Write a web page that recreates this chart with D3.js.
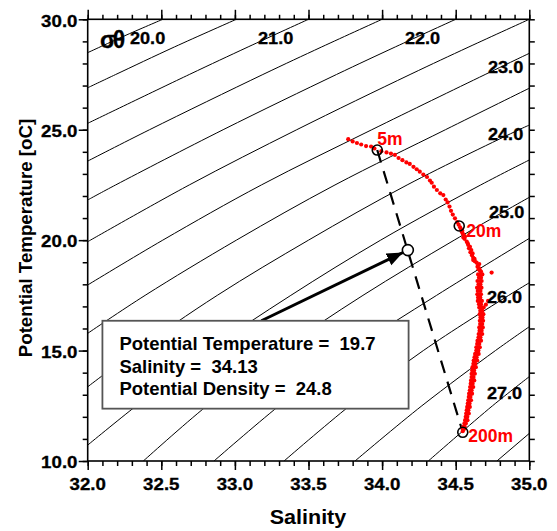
<!DOCTYPE html>
<html>
<head>
<meta charset="utf-8">
<script src="https://d3js.org/d3.v7.min.js"></script>
<style>
  body { margin: 0; background: #fff; }
  svg text { font-family: "Liberation Sans", Arial, Helvetica, sans-serif; font-weight: bold; fill: #000; }
  svg text.heavy { stroke: #000; stroke-width: 0.3px; }
  .isopycnal { fill: none; stroke: #000; stroke-width: 1px; }
  .axis line { stroke: #000; stroke-width: 1.5px; }
  .axis .domain { display: none; }
</style>
</head>
<body>
<svg id="ts" width="557" height="531"></svg>
<script>
// ---- data ----
const salinityTicks = [32.0, 32.5, 33.0, 33.5, 34.0, 34.5, 35.0];
const temperatureTicks = [10, 15, 20, 25, 30];

// sigma-theta isopycnals, every 0.5, each as [salinity, temperature] points
const sigmaLevels = [20.0, 20.5, 21.0, 21.5, 22.0, 22.5, 23.0, 23.5, 24.0, 24.5, 25.0, 25.5, 26.0, 26.5, 27.0, 27.5];
const isopycnals = [
  [[32.0, 28.49], [32.25, 29.25], [32.51, 30.0]],
  [[32.0, 26.90], [32.19, 27.5], [32.59, 28.75], [33.01, 30.0]],
  [[32.0, 25.29], [32.69, 27.5], [33.09, 28.75], [33.50, 30.0]],
  [[32.0, 23.58], [32.42, 25.0], [33.19, 27.5], [33.59, 28.75], [34.00, 30.0]],
  [[32.0, 21.82], [32.19, 22.5], [32.92, 25.0], [33.69, 27.5], [34.09, 28.75], [34.50, 30.0]],
  [[32.0, 19.93], [32.69, 22.5], [33.42, 25.0], [34.19, 27.5], [34.59, 28.75], [35.0, 30.0]],
  [[32.0, 17.97], [32.51, 20.0], [33.18, 22.5], [33.93, 25.0], [34.70, 27.5], [35.0, 28.46]],
  [[32.0, 15.78], [32.39, 17.5], [33.01, 20.0], [33.68, 22.5], [34.43, 25.0], [35.0, 26.88]],
  [[32.0, 13.36], [32.33, 15.0], [32.88, 17.5], [33.50, 20.0], [34.17, 22.5], [34.93, 25.0], [35.0, 25.21]],
  [[32.0, 10.72], [32.33, 12.5], [32.82, 15.0], [33.38, 17.5], [33.99, 20.0], [34.67, 22.5], [35.0, 23.63]],
  [[32.378, 10.0], [32.81, 12.5], [33.31, 15.0], [33.87, 17.5], [34.49, 20.0], [35.0, 21.94]],
  [[32.858, 10.0], [33.30, 12.5], [33.79, 15.0], [34.37, 17.5], [35.0, 20.08]],
  [[33.334, 10.0], [33.78, 12.5], [34.28, 15.0], [34.86, 17.5], [35.0, 18.07]],
  [[33.816, 10.0], [34.27, 12.5], [34.77, 15.0], [35.0, 16.08]],
  [[34.314, 10.0], [34.75, 12.5], [35.0, 13.82]],
  [[34.78, 10.0], [35.0, 11.25]]
];
const sigmaLabels = ["20.0", "21.0", "22.0", "23.0", "24.0", "25.0", "26.0", "27.0"];

// CTD profile, upper part (salinity, temperature)
const upperProfile = [
  [33.770, 24.57], [33.800, 24.47], [33.829, 24.40], [33.858, 24.33], [33.891, 24.26], [33.925, 24.24],
  [33.948, 24.15], [33.995, 24.03], [34.030, 23.97], [34.060, 23.92], [34.087, 23.86], [34.112, 23.72],
  [34.138, 23.62], [34.165, 23.52], [34.188, 23.45], [34.213, 23.32], [34.235, 23.21], [34.256, 23.10],
  [34.280, 22.97], [34.305, 22.86], [34.325, 22.70], [34.337, 22.60], [34.352, 22.42], [34.372, 22.27],
  [34.395, 22.12], [34.416, 22.04], [34.432, 21.84], [34.445, 21.71], [34.458, 21.52], [34.468, 21.33],
  [34.480, 21.16], [34.495, 20.99], [34.510, 20.82], [34.520, 20.70], [34.530, 20.58], [34.535, 20.50],
  [34.545, 20.42], [34.541, 20.38], [34.548, 20.30], [34.556, 20.22], [34.563, 20.16], [34.552, 20.12],
  [34.560, 20.06], [34.575, 19.93], [34.582, 19.85], [34.585, 19.78], [34.597, 19.70], [34.590, 19.63],
  [34.606, 19.55], [34.600, 19.45], [34.615, 19.40], [34.610, 19.32], [34.619, 19.20], [34.628, 19.15],
  [34.619, 19.10], [34.630, 19.05], [34.642, 18.98], [34.660, 18.92], [34.653, 18.87], [34.648, 18.80],
  [34.660, 18.72], [34.655, 18.68], [34.665, 18.62], [34.672, 18.58],
  [34.744, 18.53], [34.720, 17.25], [34.705, 17.08], [34.690, 16.95]
];
// CTD profile, dense deep part: [temperature, salinity, salinity, ...]
const deepProfile = [
  [18.45, 34.652, 34.670, 34.681], [18.30, 34.658, 34.672], [18.15, 34.648, 34.666, 34.676],
  [18.00, 34.655, 34.668], [17.85, 34.645, 34.662, 34.675], [17.70, 34.650, 34.668],
  [17.55, 34.647, 34.660, 34.672], [17.40, 34.652, 34.667], [17.25, 34.650, 34.664, 34.678],
  [17.10, 34.658, 34.672], [16.95, 34.660, 34.674, 34.684], [16.80, 34.667, 34.681],
  [16.65, 34.663, 34.676, 34.688], [16.50, 34.668, 34.682], [16.35, 34.664, 34.678, 34.686],
  [16.20, 34.666, 34.680], [16.05, 34.660, 34.674, 34.684], [15.90, 34.662, 34.676],
  [15.75, 34.656, 34.670, 34.680], [15.60, 34.655, 34.668], [15.45, 34.648, 34.662, 34.672],
  [15.30, 34.646, 34.660], [15.15, 34.640, 34.654, 34.664], [15.00, 34.640, 34.654],
  [14.85, 34.632, 34.646, 34.656], [14.70, 34.628, 34.642], [14.55, 34.622, 34.636, 34.646],
  [14.40, 34.620, 34.633], [14.25, 34.614, 34.627, 34.637], [14.10, 34.612, 34.625],
  [13.95, 34.608, 34.620, 34.630], [13.80, 34.608, 34.621], [13.65, 34.604, 34.616, 34.626],
  [13.50, 34.602, 34.615], [13.35, 34.598, 34.610, 34.619], [13.20, 34.596, 34.608],
  [13.05, 34.591, 34.602, 34.611], [12.90, 34.589, 34.600], [12.75, 34.585, 34.596, 34.604],
  [12.60, 34.582, 34.594], [12.45, 34.578, 34.588, 34.596], [12.30, 34.575, 34.586],
  [12.15, 34.571, 34.581, 34.589], [12.00, 34.568, 34.579], [11.85, 34.564, 34.573, 34.580],
  [11.70, 34.559, 34.569], [11.55, 34.552, 34.561], [11.45, 34.549, 34.557], [11.35, 34.548]
];

// marked depths
const stationDepths = ["5m", "20m", "200m"];
const stationSalinity = [33.967, 34.524, 34.548];
const stationTemperature = [24.08, 20.64, 11.30];

// picked point on the mixing line and its readout
const pickedPoint = [34.175, 19.55];
const readoutNames = ["Potential Temperature", "Salinity", "Potential Density"];
const readoutValues = ["19.7", "34.13", "24.8"];

// ---- layout ----
const svg = d3.select("#ts");
const plotLeft = 87.7, plotRight = 529.3, plotTop = 19.3, plotBottom = 461;
const x = d3.scaleLinear().domain([32, 35]).range([plotLeft, plotRight]);
const y = d3.scaleLinear().domain([10, 30]).range([plotBottom, plotTop]);

const defs = svg.append("defs");
defs.append("clipPath").attr("id", "plotclip")
  .append("rect").attr("x", plotLeft).attr("y", plotTop)
  .attr("width", plotRight - plotLeft).attr("height", plotBottom - plotTop);
defs.append("marker")
  .attr("id", "arrowhead").attr("markerUnits", "userSpaceOnUse")
  .attr("markerWidth", 18).attr("markerHeight", 14)
  .attr("refX", 16).attr("refY", 6.5).attr("orient", "auto")
  .append("path").attr("d", "M0,0L16,6.5L0,13Z").attr("fill", "#000");

const plot = svg.append("g").attr("clip-path", "url(#plotclip)");

// isopycnals
const line = d3.line().x(d => x(d[0])).y(d => y(d[1])).curve(d3.curveCatmullRom);
plot.selectAll("path.isopycnal").data(isopycnals).join("path")
  .attr("class", "isopycnal")
  .attr("d", line);

// dashed mixing line 5m -> 200m
plot.append("line")
  .attr("x1", x(stationSalinity[0])).attr("y1", y(stationTemperature[0]))
  .attr("x2", x(stationSalinity[2])).attr("y2", y(stationTemperature[2]))
  .attr("stroke", "#000").attr("stroke-width", 2.2).attr("stroke-dasharray", "13,9");

// profile points
const profile = upperProfile.concat(deepProfile.flatMap(r => r.slice(1).map(s => [s, r[0]])));
plot.selectAll("circle.obs").data(profile).join("circle")
  .attr("class", "obs")
  .attr("cx", d => x(d[0])).attr("cy", d => y(d[1]))
  .attr("r", 2.1).attr("fill", "#ff0000");

// depth markers
const stations = stationDepths.map((d, i) => ({ depth: d, s: stationSalinity[i], t: stationTemperature[i] }));
plot.selectAll("circle.station").data(stations).join("circle")
  .attr("class", "station")
  .attr("cx", d => x(d.s)).attr("cy", d => y(d.t))
  .attr("r", 5).attr("fill", "none").attr("stroke", "#000").attr("stroke-width", 1.6);

const labelOffset = [[0, -5], [7, 11], [5.5, 10]];
svg.selectAll("text.depth").data(stations).join("text")
  .attr("class", "depth")
  .attr("x", (d, i) => x(d.s) + labelOffset[i][0])
  .attr("y", (d, i) => y(d.t) + labelOffset[i][1])
  .style("font-size", "17.5px").style("fill", "#ff0000")
  .text(d => d.depth);

// picked point
plot.append("circle")
  .attr("cx", x(pickedPoint[0])).attr("cy", y(pickedPoint[1]))
  .attr("r", 5.5).attr("fill", "#fff").attr("stroke", "#000").attr("stroke-width", 1.6);

// arrow from readout box to the picked point
const arrowFrom = [33.18, 16.35];
const ang = Math.atan2(y(pickedPoint[1]) - y(arrowFrom[1]), x(pickedPoint[0]) - x(arrowFrom[0]));
svg.append("line")
  .attr("x1", x(arrowFrom[0])).attr("y1", y(arrowFrom[1]))
  .attr("x2", x(pickedPoint[0]) - 5.5 * Math.cos(ang)).attr("y2", y(pickedPoint[1]) - 5.5 * Math.sin(ang))
  .attr("stroke", "#000").attr("stroke-width", 3)
  .attr("marker-end", "url(#arrowhead)");

// readout box
const boxS = [32.10, 34.18], boxT = [16.35, 12.37];
svg.append("rect")
  .attr("x", x(boxS[0])).attr("y", y(boxT[0]))
  .attr("width", x(boxS[1]) - x(boxS[0])).attr("height", y(boxT[1]) - y(boxT[0]))
  .attr("fill", "#fff").attr("stroke", "#555").attr("stroke-width", 1.8);
svg.selectAll("text.readout").data(readoutNames).join("text")
  .attr("class", "readout")
  .attr("x", x(boxS[0]) + 17)
  .attr("y", (d, i) => y(boxT[0]) + 29.5 + i * 22.5)
  .attr("xml:space", "preserve").style("white-space", "pre")
  .style("font-size", "18.5px")
  .text((d, i) => `${d} =  ${readoutValues[i]}`);

// isopycnal labels (left x, baseline) in data units
const sigmaLabelAt = [[32.287, 28.88], [33.157, 28.90], [34.155, 28.90], [34.719, 27.57],
                      [34.719, 24.53], [34.726, 21.00], [34.712, 17.15], [34.712, 12.80]];
svg.selectAll("text.sigma").data(sigmaLabels).join("text")
  .attr("class", "sigma heavy")
  .attr("transform", (d, i) => `translate(${x(sigmaLabelAt[i][0])},${y(sigmaLabelAt[i][1])}) scale(1.1,1)`)
  .style("font-size", "16.5px")
  .text(d => d);
svg.append("text")
  .attr("class", "heavy")
  .attr("x", x(32.287) - 30).attr("y", y(28.88) + 4)
  .style("font-size", "23px").style("letter-spacing", "-3px")
  .text("σθ");

// frame and ticks
svg.append("rect")
  .attr("x", plotLeft).attr("y", plotTop).attr("width", plotRight - plotLeft).attr("height", plotBottom - plotTop)
  .attr("fill", "none").attr("stroke", "#000").attr("stroke-width", 1.6);

function addAxis(gen, tx, ty) {
  svg.append("g").attr("class", "axis").attr("transform", `translate(${tx},${ty})`).call(gen);
}
addAxis(d3.axisBottom(x).tickValues(x.ticks(30)).tickSize(5).tickFormat(""), 0, plotBottom);
addAxis(d3.axisBottom(x).tickValues(salinityTicks).tickSize(9).tickFormat(""), 0, plotBottom);
addAxis(d3.axisTop(x).tickValues(x.ticks(30)).tickSize(4.5).tickFormat(""), 0, plotTop);
addAxis(d3.axisTop(x).tickValues(salinityTicks).tickSize(9.5).tickFormat(""), 0, plotTop);
addAxis(d3.axisLeft(y).tickValues(y.ticks(20)).tickSize(5).tickFormat(""), plotLeft, 0);
addAxis(d3.axisLeft(y).tickValues(temperatureTicks).tickSize(9).tickFormat(""), plotLeft, 0);
addAxis(d3.axisRight(y).tickValues(y.ticks(20)).tickSize(5.5).tickFormat(""), plotRight, 0);

const fmt = d3.format(".1f");
svg.selectAll("text.xtick").data(salinityTicks).join("text")
  .attr("class", "xtick heavy")
  .attr("transform", d => `translate(${x(d)},490) scale(1.1,1)`)
  .attr("text-anchor", "middle").style("font-size", "17px")
  .text(fmt);
svg.selectAll("text.ytick").data(temperatureTicks).join("text")
  .attr("class", "ytick heavy")
  .attr("transform", d => `translate(77.5,${y(d) + 7.2}) scale(1.1,1)`)
  .attr("text-anchor", "end").style("font-size", "17px")
  .text(fmt);

// axis titles
svg.append("text")
  .attr("transform", "translate(308,523.5) scale(1.05,1)")
  .attr("text-anchor", "middle").style("font-size", "20.5px")
  .text("Salinity");
svg.append("text")
  .attr("transform", "translate(31.5,238) rotate(-90)")
  .attr("text-anchor", "middle").style("font-size", "18.7px")
  .text("Potential Temperature [oC]");
</script>
</body>
</html>
